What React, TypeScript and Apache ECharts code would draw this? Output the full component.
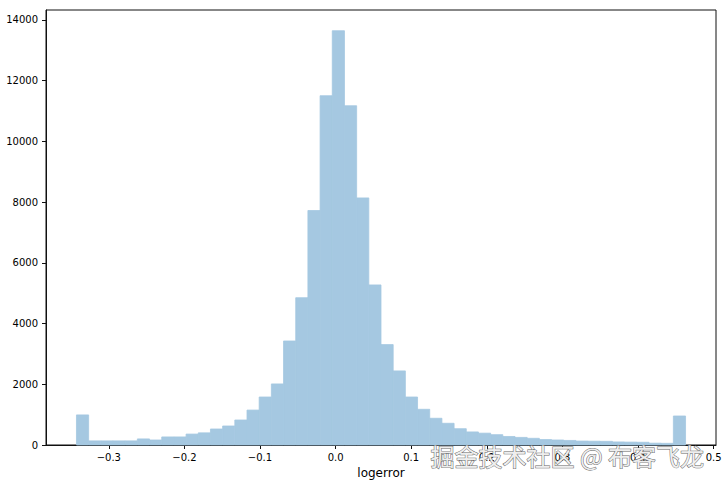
import React, { useEffect, useRef } from "react";
import * as echarts from "echarts";

// Histogram of logerror (50 equal-width bins between BIN_RANGE[0] and BIN_RANGE[1])
const BIN_RANGE = [-0.3428, 0.4629];
const COUNTS = [
  990, 135, 135, 135, 135, 200, 165, 265, 265, 360,
  400, 527, 626, 823, 1150, 1580, 2010, 3425, 4850, 7720,
  11500, 13640, 11170, 8135, 5270, 3305, 2440, 1580, 1175, 880,
  715, 537, 430, 390, 340, 280, 250, 220, 180, 165,
  150, 130, 125, 120, 100, 95, 90, 60, 55, 955,
];
const X_TICKS = [-0.3, -0.2, -0.1, 0.0, 0.1, 0.2, 0.3, 0.4, 0.5];
const Y_TICKS = [0, 2000, 4000, 6000, 8000, 10000, 12000, 14000];
const X_LABEL = "logerror";
const WATERMARK = "掘金技术社区 @ 布客飞龙";

export default function App() {
  const ref = useRef<HTMLDivElement>(null);
  useEffect(() => {
    if (!ref.current) return;
    const chart = echarts.init(ref.current, undefined, { renderer: "svg" });
    const n = COUNTS.length;
    const w = (BIN_RANGE[1] - BIN_RANGE[0]) / n;
    const data = COUNTS.map((c, i) => [BIN_RANGE[0] + i * w, BIN_RANGE[0] + (i + 1) * w, c]);
    const span = BIN_RANGE[1] - BIN_RANGE[0];
    const xMin = BIN_RANGE[0] - span * 0.05;
    const xMax = BIN_RANGE[1] + span * 0.05;
    const yMax = Math.max(...COUNTS) * 1.05;
    const font = "DejaVu Sans";
    const barColor = "#a5c8e1";
    chart.setOption({
      animation: false,
      grid: {
        left: 46,
        right: 11,
        top: 10,
        bottom: 41,
        show: true,
        borderColor: "#111",
        borderWidth: 1,
        backgroundColor: "transparent",
      },
      xAxis: {
        type: "value",
        min: xMin,
        max: xMax,
        name: X_LABEL,
        nameLocation: "middle",
        nameGap: 12,
        nameTextStyle: { fontFamily: font, fontSize: 12, color: "#000" },
        splitLine: { show: false },
        axisLine: { show: true, onZero: false, lineStyle: { color: "#111", width: 1 } },
        axisTick: { show: true, length: 4, lineStyle: { color: "#111" }, customValues: X_TICKS },
        axisLabel: {
          customValues: X_TICKS,
          fontFamily: font,
          fontSize: 10,
          color: "#000",
          margin: 7,
          formatter: (v: number) => v.toFixed(1).replace("-", "\u2212"),
        },
      },
      yAxis: {
        type: "value",
        min: 0,
        max: yMax,
        splitLine: { show: false },
        axisLine: { show: true, onZero: false, lineStyle: { color: "#111", width: 1 } },
        axisTick: { show: true, length: 4, lineStyle: { color: "#111" }, customValues: Y_TICKS },
        axisLabel: {
          customValues: Y_TICKS,
          fontFamily: font,
          fontSize: 10,
          color: "#000",
          margin: 8,
          formatter: (v: number) => String(Math.round(v)),
        },
      },
      series: [
        {
          type: "custom",
          data,
          encode: { x: [0, 1], y: 2 },
          renderItem: (params: any, api: any) => {
            const p0 = api.coord([api.value(0), api.value(2)]);
            const p1 = api.coord([api.value(1), 0]);
            return {
              type: "rect",
              shape: { x: p0[0], y: p0[1], width: p1[0] - p0[0], height: p1[1] - p0[1] },
              style: { fill: barColor, stroke: barColor, lineWidth: 0.8 },
            };
          },
        },
      ],
      graphic: [
        {
          type: "text",
          left: 430,
          top: 443,
          z: 100,
          style: {
            text: WATERMARK,
            font: '24px "Noto Sans CJK SC"',
            fill: "#eeeeee",
            stroke: "#666666",
            lineWidth: 1,
          },
        },
      ],
    });
    return () => chart.dispose();
  }, []);
  return (
    <div
      ref={ref}
      style={{ position: "fixed", left: 0, top: 0, width: 727, height: 486, background: "#fff" }}
    />
  );
}
